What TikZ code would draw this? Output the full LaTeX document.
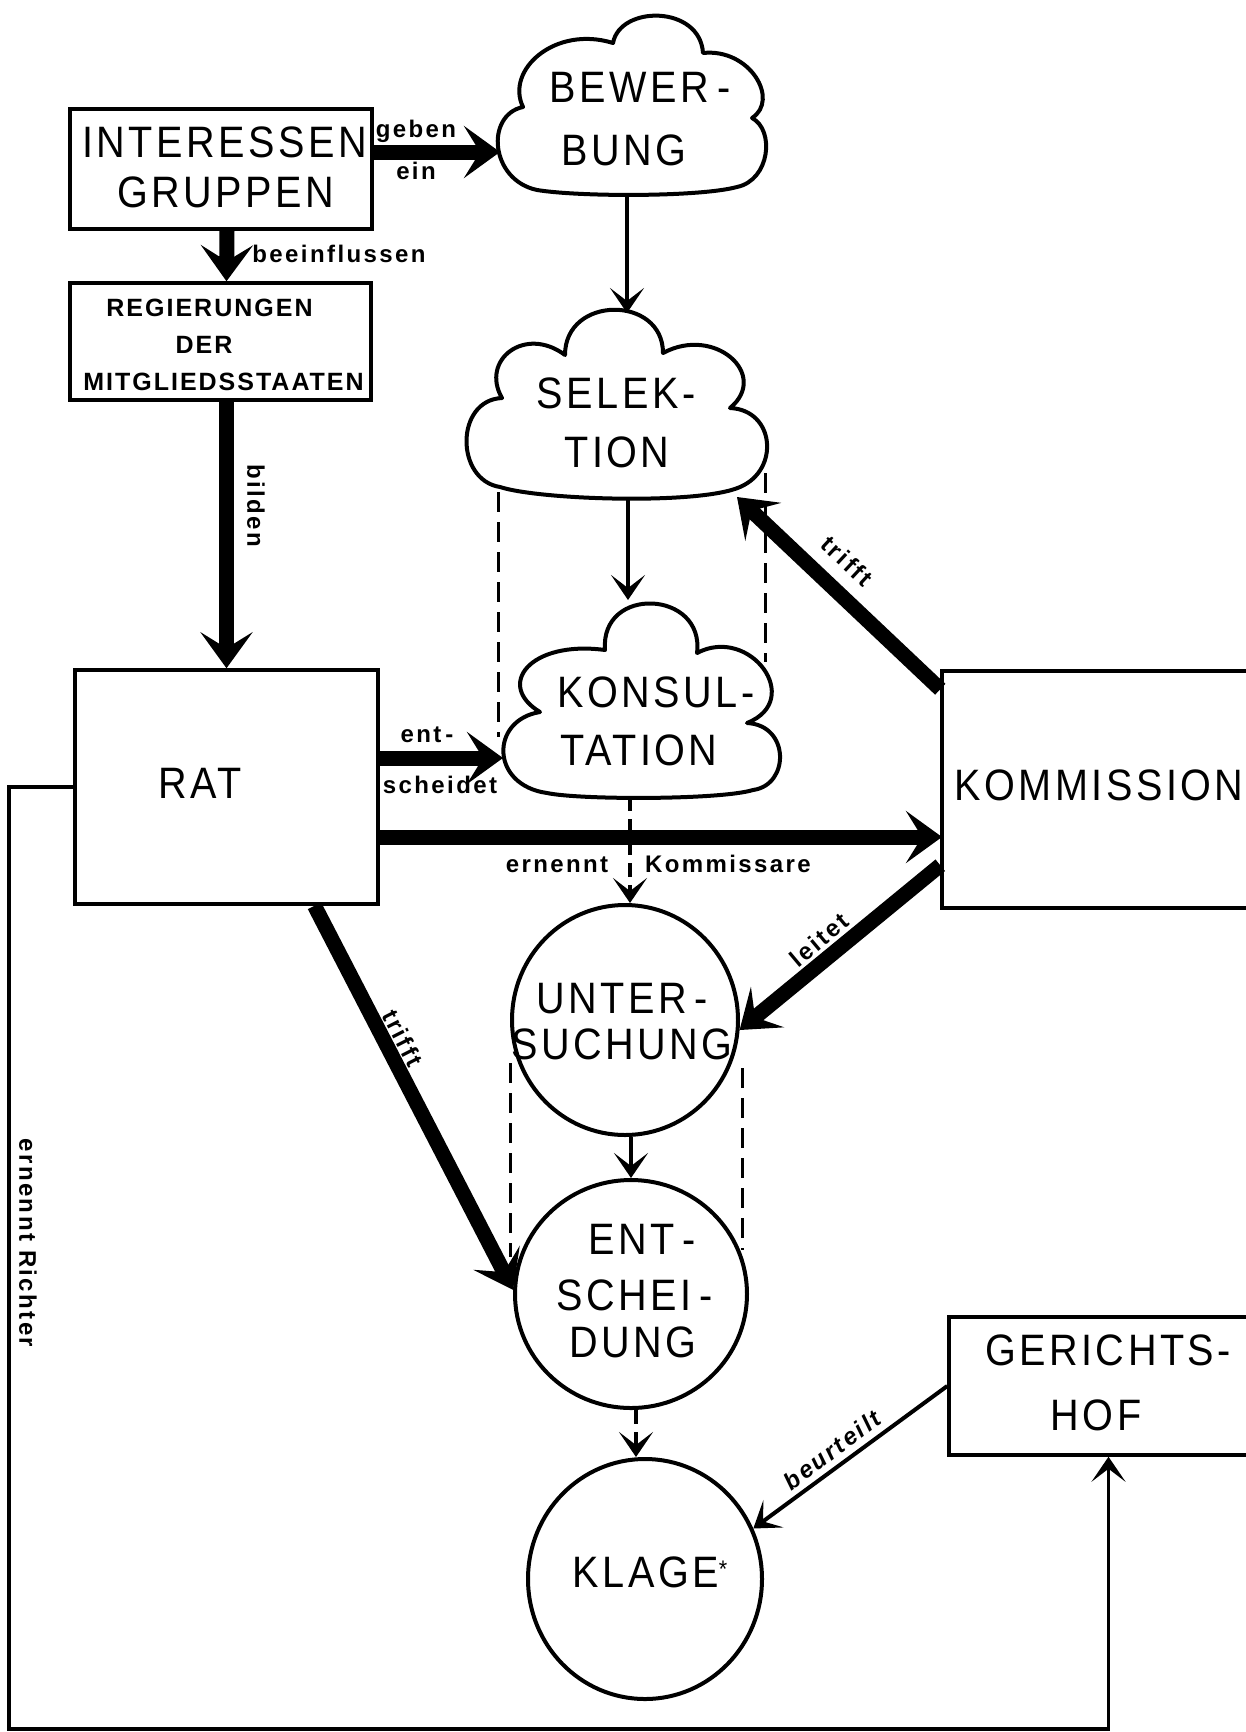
\documentclass[tikz,border=0pt]{standalone}
\usepackage{fontspec}
\setmainfont{Liberation Sans}
\newfontfamily\bigf{Liberation Sans}[FakeStretch=0.9,LetterSpace=8]
\newfontfamily\lblf{Liberation Sans}[LetterSpace=10]
\newfontfamily\regf{Liberation Sans}[LetterSpace=8]
\usetikzlibrary{arrows.meta,shapes.geometric}
\begin{document}
\begin{tikzpicture}[x=1pt,y=-1pt,
  box/.style={draw, line width=3.5pt, rectangle, inner sep=0pt},
  ell/.style={draw, ellipse, line width=4pt, inner sep=0pt},
  cloudline/.style={line width=4pt, line join=round},
  thk/.style={line width=15pt, -{Stealth[length=36pt,width=52pt,inset=16pt]}},
  thn/.style={line width=4pt, -{Stealth[length=25pt,width=34pt,inset=13pt]}},
  dsh/.style={line width=3pt, dash pattern=on 20pt off 10pt},
  dsharr/.style={line width=3.5pt, dash pattern=on 14pt off 8pt, -{Stealth[length=25pt,width=34pt,inset=13pt]}},
  bigtxt/.style={font=\bigf\fontsize{44}{50}\selectfont, inner sep=0pt, anchor=base},
  regtxt/.style={font=\regf\bfseries\fontsize{25}{28}\selectfont, inner sep=0pt, anchor=base},
  lbl/.style={font=\lblf\bfseries\fontsize{24}{26}\selectfont, inner sep=0pt, anchor=base},
  rlbl/.style={font=\lblf\bfseries\fontsize{24}{26}\selectfont, inner sep=0pt}
]
\useasboundingbox[fill=white] (0,0) rectangle (1246,1732);

% boxes
\node[box, minimum width=302pt, minimum height=120pt] (ig) at (221,169) {};
\node[box, minimum width=301pt, minimum height=117pt] (reg) at (220.5,341.5) {};
\node[box, minimum width=303pt, minimum height=234pt] (rat) at (226.5,787) {};
\node[box, minimum width=310pt, minimum height=237pt] (kom) at (1097,789.5) {};
\node[box, minimum width=303pt, minimum height=138pt] (ger) at (1100.5,1386) {};

% ellipses
\node[ell, minimum width=226pt, minimum height=230pt] (unt) at (625,1020) {};
\node[ell, minimum width=232pt, minimum height=228pt] (ent) at (631,1294) {};
\node[ell, minimum width=234pt, minimum height=240pt] (kla) at (645,1579) {};

% clouds
\draw[cloudline] (537,190) .. controls (490,180) and (485,115) .. (523,107)
  .. controls (505,70) and (555,25) .. (613,43)
  .. controls (620,5) and (700,5) .. (703,53)
  .. controls (750,48) and (780,100) .. (752,118)
  .. controls (775,130) and (770,180) .. (737,187)
  .. controls (700,197) and (580,197) .. (537,190) -- cycle;
\draw[cloudline] (565,355) .. controls (565,295) and (663,295) .. (663,353)
  .. controls (715,325) and (770,375) .. (730,408)
  .. controls (775,410) and (780,470) .. (740,487)
  .. controls (700,505) and (540,500) .. (500,487)
  .. controls (455,480) and (455,400) .. (502,398)
  .. controls (480,360) and (525,325) .. (565,355) -- cycle;
\draw[cloudline] (605,650) .. controls (600,585) and (705,590) .. (697,653)
  .. controls (750,625) and (805,700) .. (747,723)
  .. controls (790,725) and (790,785) .. (753,790)
  .. controls (720,800) and (580,800) .. (547,793)
  .. controls (490,785) and (490,720) .. (540,712)
  .. controls (495,685) and (530,640) .. (605,650) -- cycle;

% contact points on clouds
\coordinate (bewW) at (500,152);
\coordinate (bewS) at (627,195);
\coordinate (selN) at (627,313);
\coordinate (selS) at (628,498);
\coordinate (selR) at (737,497);
\coordinate (konN) at (628,600);
\coordinate (konW) at (503,758);
\coordinate (konS) at (630,797);
\coordinate (komA) at (942,837);
\coordinate (eS) at ([xshift=5pt]ent.south);
\coordinate (gerB) at ([xshift=8pt]ger.south);
\coordinate (cL) at (9,1729);

% bracket dashed lines
\draw[dsh] (498,492) -- (498,737);
\draw[dsh] (765,473) -- (765,662);
\draw[dsh] (510,1063) -- (510,1257);
\draw[dsh] (742,1068) -- (742,1250);

% connectors
\draw[thk] (ig.east |- bewW) -- (bewW);
\draw[thk] ([xshift=6pt]ig.south) -- ([xshift=6pt]reg.north);
\draw[thk] (rat.north |- reg.south) -- (rat.north);
\draw[thn] (bewS) -- (selN);
\draw[thn] (selS) -- (konN);
\draw[thk] ([yshift=-20pt]kom.north west) -- (selR);
\draw[thk] (rat.east |- konW) -- (konW);
\draw[thk] (rat.east |- komA) -- (komA);
\draw[dsharr] (konS) -- (konS |- unt.north);
\draw[thk] ([yshift=-196pt]kom.north west) -- (unt.-5);
\draw[thk] ([xshift=88pt]rat.south) -- (ent.178);
\draw[thn] (ent.north |- unt.south) -- (ent.north);
\draw[dsharr] (eS) -- (eS |- kla.north);
\draw[thn] (ger.west) -- (kla.25);
\draw[thn, line width=3.5pt] (rat.west) -| (cL) -| (gerB);

% texts
\node[bigtxt] (tIG1) at (224.5,157) {INTERESSEN};
\node[bigtxt] (tIG2) at (225.5,207) {GRUPPEN};
\node[regtxt] (tR1) at (209.5,316) {REGIERUNGEN};
\node[regtxt] (tR2) at (204,353) {DER};
\node[regtxt] (tR3) at (223.5,390) {MITGLIEDSSTAATEN};
\node[bigtxt] (tB1) at (640,102) {BEWER\kern8pt-};
\node[bigtxt] (tB2) at (624,165) {BUNG};
\node[bigtxt] (tS1) at (616,408) {SELEK-};
\node[bigtxt] (tS2) at (617,467) {TION};
\node[bigtxt] (tK1) at (656,707) {KONSUL-};
\node[bigtxt] (tK2) at (639,765) {TATION};
\node[bigtxt] (tRat) at (200,798) {RAT};
\node[bigtxt] (tKom) at (1099,800) {KOMMISSION};
\node[bigtxt] (tU1) at (622,1013) {UNTER\kern8pt-};
\node[bigtxt] (tU2) at (622,1059) {SUCHUNG};
\node[bigtxt] (tE1) at (642,1254) {ENT\kern8pt-};
\node[bigtxt] (tE2) at (635,1310) {SCHEI\kern8pt-};
\node[bigtxt] (tE3) at (633,1357) {DUNG};
\node[bigtxt] (tKl) at (650,1587) {KLAGE\raisebox{10pt}{\fontsize{24}{24}\selectfont *}};
\node[bigtxt] (tG1) at (1108,1365) {GERICHTS-};
\node[bigtxt] (tG2) at (1096,1430) {HOF};

% labels
\node[lbl] (lGeben) at (416,137) {geben};
\node[lbl] (lEin) at (416,179) {ein};
\node[lbl] (lBeein) at (339,262) {beeinflussen};
\node[rlbl, rotate=-90] (lBilden) at (256,506) {bilden};
\node[lbl] (lEnt) at (427,742) {ent\kern4pt-};
\node[lbl] (lSch) at (440,793) {scheidet};
\node[lbl] (lErn) at (557,872) {ernennt};
\node[lbl] (lKomm) at (728,872) {Kommissare};
\node[rlbl, rotate=-43] (lTr1) at (847,561) {trifft};
\node[rlbl, rotate=40] (lLeit) at (819,940) {leitet};
\node[rlbl, rotate=-63] (lTr2) at (403,1038) {trifft};
\node[rlbl, font=\lblf\bfseries\itshape\fontsize{24}{26}\selectfont, rotate=37] (lBeur) at (832,1450) {beurteilt};
\node[rlbl, rotate=-90] (lRich) at (28,1243) {ernennt Richter};
\end{tikzpicture}
\end{document}
